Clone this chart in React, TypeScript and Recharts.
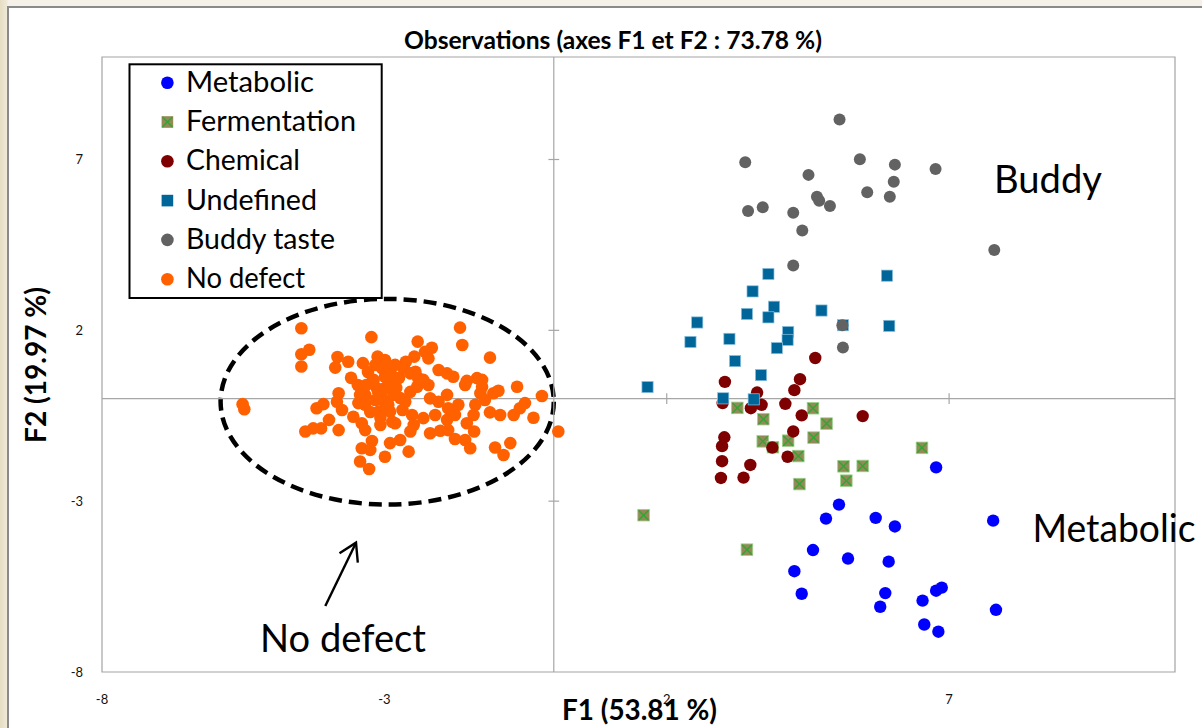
import React from 'react';
import { ScatterChart, Scatter, XAxis, YAxis, ReferenceLine, ReferenceArea } from 'recharts';

const FONT = 'Lato, "Open Sans", sans-serif';

// [F1, F2] coordinates per class
const metabolic: [number, number][] = [
  [6.77, -2.01], [5.05, -3.1], [4.82, -3.51], [5.7, -3.49], [6.04, -3.74], [7.78, -3.57], [4.59, -4.43],
  [5.21, -4.68], [5.93, -4.77], [4.26, -5.05], [4.39, -5.71], [5.87, -5.69], [5.78, -6.09], [6.53, -5.91],
  [6.77, -5.62], [6.87, -5.53], [7.83, -6.18], [6.56, -6.61], [6.81, -6.82],
];

const fermentation: [number, number][] = [
  [3.25, -0.27], [3.71, -0.6], [4.59, -0.28], [4.83, -0.73], [3.7, -1.25], [3.88, -1.42], [4.15, -1.23],
  [4.6, -1.14], [4.33, -1.68], [5.13, -1.98], [5.47, -1.97], [5.18, -2.4], [4.35, -2.5], [6.52, -1.44],
  [1.59, -3.41], [3.42, -4.42],
];

const chemical: [number, number][] = [
  [4.63, 1.19], [4.36, 0.57], [4.26, 0.25], [3.03, 0.49], [3.6, 0.18], [2.99, -0.13], [3.49, -0.28],
  [3.68, -0.18], [4.1, -0.15], [4.39, -0.49], [5.47, -0.51], [3.02, -1.13], [2.98, -1.39], [4.24, -0.96],
  [3.87, -1.43], [4.14, -1.7], [2.98, -1.83], [3.48, -1.94], [2.96, -2.32], [3.36, -2.31],
];

const undefinedCls: [number, number][] = [
  [3.8, 3.65], [5.9, 3.6], [3.52, 3.14], [3.9, 2.69], [3.42, 2.48], [3.8, 2.38], [4.74, 2.58], [5.12, 2.15],
  [5.94, 2.13], [4.15, 1.95], [4.14, 1.72], [3.11, 1.75], [3.95, 1.48], [2.54, 2.23], [3.21, 1.1],
  [2.42, 1.66], [3.67, 0.69], [1.66, 0.34], [3.0, 0.01], [3.54, -0.02],
];

const buddy: [number, number][] = [
  [5.06, 8.17], [3.39, 6.92], [5.42, 7.01], [6.04, 6.85], [6.76, 6.72], [4.51, 6.55], [6.02, 6.35],
  [5.55, 6.04], [5.95, 5.91], [4.66, 5.91], [4.7, 5.79], [4.89, 5.64], [3.44, 5.49], [3.7, 5.6],
  [4.24, 5.44], [4.4, 4.92], [7.8, 4.35], [4.24, 3.9], [5.11, 2.15], [5.12, 1.5],
];

const noDefect: [number, number][] = [
  [-4.47, 2.06], [-3.23, 1.8], [-4.33, 1.43], [-4.47, 1.3], [-4.47, 0.94], [-3.83, 1.22], [-3.64, 1.08],
  [-3.87, 0.91], [-3.38, 1.04], [-3.12, 1.23], [-3.04, 0.89], [-3.59, 0.61], [-3.47, 0.4], [-3.81, 0.16],
  [-3.84, -0.09], [-3.75, -0.33], [-4.08, -0.16], [-4.2, -0.28], [-5.51, -0.16], [-5.48, -0.31],
  [-3.46, -0.13], [-3.34, 0.11], [-3.55, -0.53], [-3.98, -0.62], [-3.81, -0.92], [-4.12, -0.87],
  [-4.26, -0.87], [-4.4, -0.96], [-3.4, -0.72], [-3.34, -0.92], [-3.22, -1.24], [-3.4, -1.45],
  [-3.25, -1.5], [-3.43, -1.84], [-3.27, -2.06], [-2.99, -1.7], [-2.9, -1.3], [-3.07, -0.77],
  [-3.1, -0.38], [-3.19, 0.55], [-3.13, 0.3], [-3.04, 0.01], [-2.99, 0.64], [-2.93, 0.89], [-2.87, 0.4],
  [-1.66, 2.08], [-1.62, 1.57], [-2.41, 1.67], [-2.16, 1.49], [-2.28, 1.37], [-2.47, 1.23], [-2.62, 1.08],
  [-2.22, 1.18], [-1.13, 1.2], [-2.04, 0.84], [-1.89, 0.74], [-1.78, 0.64], [-1.54, 0.52], [-1.36, 0.6],
  [-1.57, 0.4], [-1.27, 0.35], [-1.3, 0.16], [-1.07, 0.16], [-0.98, 0.23], [-0.65, 0.35], [-0.21, 0.08],
  [0.08, -0.96], [-0.51, -0.13], [-0.6, -0.28], [-0.71, -0.48], [-0.36, -0.56], [-1.13, -0.4],
  [-0.95, -0.48], [-1.22, -0.04], [-1.39, -0.18], [-1.42, -0.48], [-1.54, -0.72], [-1.41, -0.96],
  [-1.69, -0.18], [-1.75, -0.48], [-1.89, 0.11], [-1.87, -0.28], [-1.89, -0.62], [-1.87, -0.92],
  [-1.75, -1.18], [-1.57, -1.21], [-1.48, -1.45], [-2.01, -0.94], [-2.19, -1.01], [-2.31, -0.57],
  [-2.1, -0.48], [-2.04, -0.09], [-2.19, 0.01], [-2.22, 0.4], [-2.42, 0.35], [-2.54, 0.2], [-2.63, -0.09],
  [-2.51, -0.48], [-2.48, -0.77], [-2.54, -0.96], [-2.72, -1.21], [-2.57, -1.55], [-1.04, -1.43],
  [-0.89, -1.65], [-0.77, -1.3], [-2.87, 0.69], [-2.81, 0.4], [-2.84, 0.11], [-2.9, -0.38], [-2.81, -0.72],
  [-2.66, 0.89], [-2.54, 0.74], [-2.4, 0.6], [-3.29, 0.78], [-3.22, 0.49], [-3.11, 0.2], [-3.0, -0.1],
  [-2.79, 0.31], [-2.74, 0.61], [-2.99, 0.31], [-3.16, -0.04], [-3.34, -0.18], [-3.25, -0.39],
  [-3.07, -0.56], [-2.86, -0.68], [-2.93, -0.18], [-2.72, 0.02], [-2.68, -0.33], [-2.81, 0.99],
  [-2.99, 1.13], [-3.16, 0.99], [-3.32, 0.4], [-3.43, 0.11], [-2.31, 0.55], [-2.45, 0.79], [-1.27, 0.55],
];

const axisTicks = [-8, -3, 2, 7];
const innerTicks = [-3, 2, 7];

const toPts = (arr: [number, number][]) => arr.map(([x, y]) => ({ x, y }));

const COLORS = {
  metabolic: '#0000ff',
  chemical: '#7f0000',
  undefinedCls: '#00669a',
  buddy: '#626262',
  noDefect: '#ff6000',
};

const dot = (fill: string, r: number) => (p: any) => <circle cx={p.cx} cy={p.cy} r={r} fill={fill} />;

const undefSquare = (p: any) => (
  <rect x={p.cx - 5.6} y={p.cy - 5.6} width={11.2} height={11.2} fill={COLORS.undefinedCls} stroke="#8cc0de" strokeWidth={0.7} />
);

const fermMarker = (p: any) => (
  <g>
    <rect x={p.cx - 5.8} y={p.cy - 5.8} width={11.6} height={11.6} fill="#938a58" stroke="#9ad48c" strokeWidth={0.8} />
    <line x1={p.cx - 5} y1={p.cy - 5} x2={p.cx + 5} y2={p.cy + 5} stroke="#32a532" strokeWidth={1.4} />
    <line x1={p.cx - 5} y1={p.cy + 5} x2={p.cx + 5} y2={p.cy - 5} stroke="#32a532" strokeWidth={1.4} />
  </g>
);

const ellipseShape = (p: any) => (
  <ellipse
    cx={p.x + p.width / 2}
    cy={p.y + p.height / 2}
    rx={p.width / 2}
    ry={p.height / 2}
    fill="none"
    stroke="#000"
    strokeWidth={4.5}
    strokeDasharray="13 7"
  />
);

const legendRows = [
  { name: 'Metabolic', kind: 'dot', color: COLORS.metabolic, w: 128 },
  { name: 'Fermentation', kind: 'ferm', color: '', w: 170 },
  { name: 'Chemical', kind: 'dot', color: COLORS.chemical, w: 114 },
  { name: 'Undefined', kind: 'sq', color: COLORS.undefinedCls, w: 131 },
  { name: 'Buddy taste', kind: 'dot', color: COLORS.buddy, w: 149 },
  { name: 'No defect', kind: 'dot', color: COLORS.noDefect, w: 119 },
];

export default function App() {
  return (
    <div
      style={{
        position: 'absolute',
        left: 0,
        top: 0,
        width: 1202,
        height: 728,
        overflow: 'hidden',
        background: 'linear-gradient(to right, #e6ddc2 0px, #efe9d8 7px, #f5f1e9 8px)',
      }}
    >
      {/* chart frame */}
      <div
        style={{
          position: 'absolute',
          left: 7,
          top: 6,
          width: 1300,
          height: 800,
          border: '2px solid #8a8a8a',
          background: '#fff',
        }}
      />
      <div style={{ position: 'absolute', left: 0, top: 0 }}>
        <ScatterChart width={1202} height={728} margin={{ top: 57, right: 27, bottom: 26, left: 42 }}>
          <XAxis
            type="number"
            dataKey="x"
            domain={[-8, 11]}
            ticks={axisTicks}
            axisLine={false}
            tickLine={false}
            tickMargin={17}
            height={30}
            tick={{ fontSize: 13, fill: '#111', fontFamily: FONT }}
          />
          <YAxis
            type="number"
            dataKey="y"
            domain={[-8, 10]}
            ticks={axisTicks}
            axisLine={false}
            tickLine={false}
            tickMargin={13}
            width={60}
            tick={{ fontSize: 13, fill: '#111', fontFamily: FONT }}
          />
          <ReferenceArea x1={-8} x2={11} y1={-8} y2={10} fill="none" stroke="#a3a3a3" strokeWidth={1.2} />
          <ReferenceLine x={0} stroke="#a6a6a6" strokeWidth={1.2} />
          <ReferenceLine y={0} stroke="#a6a6a6" strokeWidth={1.2} />
          {innerTicks.map((t) => (
            <ReferenceLine
              key={'tx' + t}
              segment={[{ x: t, y: -0.155 }, { x: t, y: 0.155 }]}
              stroke="#a6a6a6"
              strokeWidth={1.2}
            />
          ))}
          {innerTicks.map((t) => (
            <ReferenceLine
              key={'ty' + t}
              segment={[{ x: -0.095, y: t }, { x: 0.095, y: t }]}
              stroke="#a6a6a6"
              strokeWidth={1.2}
            />
          ))}
          <ReferenceArea x1={-5.9} x2={0} y1={-3.1} y2={2.92} shape={ellipseShape} />
          <Scatter name="Metabolic" data={toPts(metabolic)} shape={dot(COLORS.metabolic, 6.2)} isAnimationActive={false} />
          <Scatter name="Fermentation" data={toPts(fermentation)} shape={fermMarker} isAnimationActive={false} />
          <Scatter name="Chemical" data={toPts(chemical)} shape={dot(COLORS.chemical, 6.2)} isAnimationActive={false} />
          <Scatter name="Undefined" data={toPts(undefinedCls)} shape={undefSquare} isAnimationActive={false} />
          <Scatter name="Buddy taste" data={toPts(buddy)} shape={dot(COLORS.buddy, 6)} isAnimationActive={false} />
          <Scatter name="No defect" data={toPts(noDefect)} shape={dot(COLORS.noDefect, 6.3)} isAnimationActive={false} />
        </ScatterChart>
      </div>

      <svg
        width={1202}
        height={728}
        style={{ position: 'absolute', left: 0, top: 0, pointerEvents: 'none' }}
        fontFamily={FONT}
      >
        <text x={613} y={49} textAnchor="middle" fontSize={24} fontWeight="bold" textLength={418} lengthAdjust="spacingAndGlyphs">
          Observations (axes F1 et F2 : 73.78 %)
        </text>
        <text x={639.5} y={720} textAnchor="middle" fontSize={29} fontWeight="bold" textLength={155} lengthAdjust="spacingAndGlyphs">
          F1 (53.81 %)
        </text>
        <text
          x={0}
          y={0}
          transform="translate(46 365) rotate(-90)"
          textAnchor="middle"
          fontSize={29}
          fontWeight="bold"
          textLength={156}
          lengthAdjust="spacingAndGlyphs"
        >
          F2 (19.97 %)
        </text>

        {/* legend */}
        <rect x={129.5} y={64.3} width={252.2} height={233.7} fill="#fff" stroke="#000" strokeWidth={2} />
        {legendRows.map((r, i) => {
          const base = 91.7 + i * 39.3;
          const cy = base - 9;
          let marker;
          if (r.kind === 'dot') marker = <circle cx={167.4} cy={cy} r={6.3} fill={r.color} />;
          else if (r.kind === 'sq') marker = <rect x={161.6} y={cy - 5.8} width={11.6} height={11.6} fill={r.color} />;
          else
            marker = (
              <g>
                <rect x={161.6} y={cy - 5.8} width={11.6} height={11.6} fill="#938a58" />
                <line x1={162.4} y1={cy - 5} x2={172.4} y2={cy + 5} stroke="#32a532" strokeWidth={1.4} />
                <line x1={162.4} y1={cy + 5} x2={172.4} y2={cy - 5} stroke="#32a532" strokeWidth={1.4} />
              </g>
            );
          return (
            <g key={r.name}>
              {marker}
              <text x={186} y={base} fontSize={28} fill="#000" textLength={r.w} lengthAdjust="spacingAndGlyphs">
                {r.name}
              </text>
            </g>
          );
        })}

        {/* annotations */}
        <text x={994} y={192.7} fontSize={39} fill="#000" textLength={108} lengthAdjust="spacingAndGlyphs">
          Buddy
        </text>
        <text x={1032.5} y={541.7} fontSize={39} fill="#000" textLength={163} lengthAdjust="spacingAndGlyphs">
          Metabolic
        </text>
        <text x={260} y={651.7} fontSize={39} fill="#000" textLength={166} lengthAdjust="spacingAndGlyphs">
          No defect
        </text>
        <line x1={325.3} y1={606} x2={356} y2={542.7} stroke="#000" strokeWidth={2.4} />
        <polyline points="339.5,553.3 356,542.7 357.8,562.7" fill="none" stroke="#000" strokeWidth={2.4} />
      </svg>
    </div>
  );
}
